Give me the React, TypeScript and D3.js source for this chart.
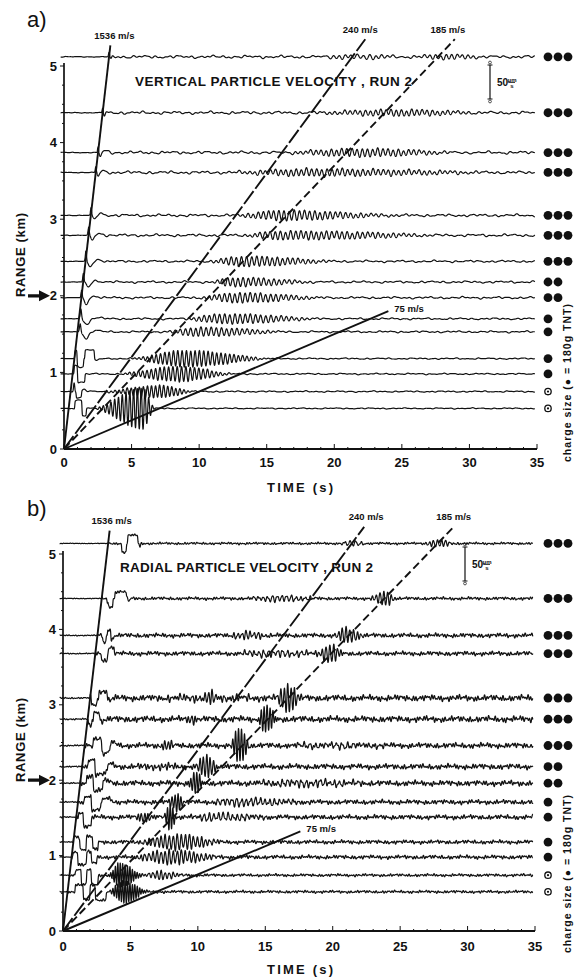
import React, { useMemo } from 'react';
import * as d3 from 'd3';

// ---------------- data ----------------
const X_TICKS = [0, 5, 10, 15, 20, 25, 30, 35];
const Y_TICKS = [0, 1, 2, 3, 4, 5];
const VELOCITIES = [1536, 240, 185, 75]; // m/s
const VELOCITY_LABELS = ['1536 m/s', '240 m/s', '185 m/s', '75 m/s'];
const VELOCITY_DASH = ['none', '16,3', '8,4', 'none'];
const CHARGES = [3, 3, 3, 3, 3, 3, 3, 2, 2, 1, 1, 1, 1, 0.5, 0.5]; // x 180 g TNT
const SCALE_BAR = 50; // μm/s

// panel a : vertical particle velocity
const RANGES_A = [5.12, 4.39, 3.87, 3.61, 3.05, 2.79, 2.45, 2.18, 1.975, 1.7, 1.53, 1.18, 0.98, 0.75, 0.53];
const LINE_TOP_A = [5.27, 5.35, 5.35, 1.8];
const NOISE_A = [2, 2, 2, 2, 1.8, 1.8, 1.5, 1.5, 1.5, 1.3, 1.3, 1, 1, 1, 0.8];
const NOISE_PERIODS_A = [0.83, 0.39, 2.6, 0.55];
const NOISE_WEIGHTS_A = [0.45, 0.3, 0.4, 0.25];
// [trace, t0, t1, amplitude μm/s]
const BOXES_A = [
  [11, 0.8, 0.97, 12], [11, 0.97, 1.45, -12], [11, 1.55, 2.25, 13],
  [12, 0.75, 1.0, 13], [12, 1.0, 1.55, -12],
  [13, 0.9, 1.3, -9],
  [14, 0.8, 1.33, 12], [14, 1.33, 1.65, -11],
];
// [trace, centre, width, amplitude]
const BUMPS_A = [
  [0, 3.33, 0.05, 6], [0, 3.48, 0.07, -4],
  [1, 2.86, 0.05, 7], [1, 3.0, 0.08, -5],
  [2, 2.52, 0.05, 8], [2, 2.68, 0.1, -6], [2, 3.1, 0.25, 2.5],
  [3, 2.35, 0.05, 8], [3, 2.52, 0.1, -6], [3, 2.9, 0.25, 2],
  [4, 2.0, 0.06, 10], [4, 2.25, 0.15, -6], [4, 2.8, 0.3, 2.5],
  [5, 1.82, 0.06, 10], [5, 2.1, 0.15, -7], [5, 2.7, 0.3, 2.5],
  [6, 1.62, 0.06, 14], [6, 1.95, 0.2, -8], [6, 2.6, 0.3, 2.5],
  [7, 1.43, 0.06, 12], [7, 1.8, 0.2, -7], [7, 2.4, 0.3, 2],
  [8, 1.3, 0.06, 10], [8, 1.65, 0.2, -9], [8, 2.3, 0.3, 2.5],
  [9, 1.25, 0.07, 14], [9, 1.7, 0.25, -8], [9, 2.5, 0.35, 2],
  [10, 1.2, 0.07, 12], [10, 1.65, 0.25, -10], [10, 2.4, 0.35, 2],
  [11, 2.45, 0.2, -3],
  [13, 0.75, 0.06, 13], [13, 1.5, 0.2, 3],
];
// [trace, tStart, tPeak, tEnd, amplitude, period]
const PACKETS_A = [
  [0, 18, 22, 26, 3, 0.45], [0, 25, 28.5, 33, 3.5, 0.4],
  [1, 15, 24, 33, 4, 0.38],
  [2, 14, 22, 32, 5, 0.38],
  [3, 11, 19.5, 33, 5.5, 0.38],
  [4, 12, 16.5, 27, 7, 0.38],
  [5, 12.5, 16, 30, 6.5, 0.38],
  [6, 10, 13.3, 21, 7.5, 0.38],
  [7, 10.5, 12.5, 20, 6, 0.38],
  [8, 9.5, 13, 21, 7, 0.38],
  [9, 8, 12, 20, 7, 0.38],
  [10, 7, 10, 18, 6, 0.38],
  [11, 4.5, 9, 16, 12, 0.32],
  [12, 3.5, 8.5, 13, 11, 0.32],
  [13, 2.5, 7, 10, 9, 0.3],
  [14, 2, 5.8, 6.8, 30, 0.28],
];

// panel b : radial particle velocity
const RANGES_B = [5.14, 4.41, 3.92, 3.68, 3.09, 2.81, 2.46, 2.18, 1.96, 1.71, 1.51, 1.18, 0.98, 0.74, 0.52];
const LINE_TOP_B = [5.31, 5.36, 5.36, 1.32];
const NOISE_B = [1.5, 2, 2.8, 2.8, 4, 4, 3.5, 3.5, 3.5, 3, 3, 2.5, 2.5, 1.8, 1.8];
const NOISE_PERIODS_B = [0.47, 0.17, 2.3, 0.23];
const NOISE_WEIGHTS_B = [0.3, 0.45, 0.3, 0.4];
const BOXES_B = [
  [0, 4.35, 4.7, -13], [0, 4.8, 5.55, 12],
  [1, 3.35, 3.7, -12], [1, 3.85, 4.7, 10],
  [2, 2.95, 3.2, -10], [2, 3.3, 3.55, 9], [2, 3.55, 3.75, -6],
  [3, 2.85, 3.3, -10], [3, 3.35, 3.8, 9],
  [4, 2.1, 2.55, -10], [4, 2.65, 3.3, 10],
  [5, 1.88, 2.15, -10], [5, 2.25, 2.75, 10],
  [6, 2.25, 2.87, 11], [6, 2.87, 3.48, -12],
  [7, 1.88, 2.37, 11], [7, 2.37, 3.3, -11],
  [8, 1.75, 2.25, 11], [8, 2.25, 2.95, -11],
  [9, 1.6, 2.1, 9], [9, 2.1, 2.8, -12],
  [10, 1.15, 1.5, 7], [10, 1.5, 2.1, -13],
  [11, 0.77, 1.25, 8], [11, 1.25, 1.72, -11], [11, 1.72, 2.2, 8], [11, 2.2, 2.6, -11],
  [12, 0.75, 1.1, 8], [12, 1.1, 1.75, -11], [12, 1.75, 2.1, 8], [12, 2.1, 2.5, -9],
  [13, 0.9, 1.35, 8], [13, 1.35, 1.75, -14], [13, 1.75, 2.1, 8], [13, 2.1, 2.6, -14],
  [14, 0.9, 1.5, 10], [14, 1.5, 2.0, -12], [14, 2.0, 2.4, 10], [14, 2.4, 3.2, -12],
];
const BUMPS_B = [
  [0, 5.7, 0.06, -5], [1, 3.3, 0.05, -6], [1, 4.9, 0.08, -4],
  [4, 3.5, 0.1, -5], [5, 2.9, 0.1, -5],
  [6, 3.7, 0.35, 4], [7, 3.5, 0.35, 4], [8, 3.2, 0.35, 4], [9, 3.3, 0.35, 6],
];
const PACKETS_B = [
  [0, 26.5, 27.8, 29.5, 5, 0.3], [0, 20, 21.5, 23, 3, 0.4],
  [1, 22.6, 23.8, 25, 10, 0.28], [1, 13, 16, 20, 4, 0.35],
  [2, 19.8, 21.1, 22.5, 11, 0.28], [2, 12, 13.5, 16, 5, 0.3],
  [3, 18.6, 19.8, 21, 13, 0.28], [3, 12, 15, 22, 4, 0.35],
  [4, 15.6, 16.7, 17.8, 22, 0.25], [4, 10, 11, 12, 6, 0.25], [4, 5, 10, 20, 3, 0.3],
  [5, 14.2, 15.1, 16, 22, 0.22], [5, 9, 9.6, 10.5, 6, 0.25],
  [6, 12.3, 13.1, 14, 25, 0.22], [6, 7, 7.8, 8.8, 6, 0.25], [6, 15, 20, 26, 3, 0.4],
  [7, 9.6, 10.7, 11.8, 16, 0.25], [7, 5, 7, 9, 4, 0.25],
  [8, 9.2, 9.8, 10.6, 18, 0.22], [8, 12, 18, 25, 4, 0.35],
  [9, 7.6, 8.4, 9.2, 12, 0.22], [9, 10, 13, 20, 5, 0.35],
  [10, 7.3, 7.9, 8.5, 18, 0.2], [10, 5, 6, 7, 5, 0.25], [10, 9, 11, 17, 5, 0.35],
  [11, 4.8, 8.5, 12.5, 11, 0.3],
  [12, 4.5, 8, 12.5, 10, 0.3],
  [13, 3.3, 4.2, 6.3, 17, 0.18], [13, 6, 7, 9.5, 6, 0.3],
  [14, 3.3, 4.5, 6.4, 17, 0.18],
];

// ---------------- rendering ----------------
const FONT = "'Liberation Sans', Arial, Helvetica, sans-serif";
const INK = '#111';

type Layout = {
  xL: number; xR: number; y0: number; y5: number;
  label: string; labelY: number;
  title: string; titleX: number; titleY: number; titleLen: number;
  barX: number; barY: number;
  chargeY: number; timeY: number; tickY: number; rangeY: number;
  labelDx: number[];
};

const sig = (x: number) => 1 / (1 + Math.exp(-x));

function sampleTrace(
  i: number, r: number, boxes: number[][], bumps: number[][], packets: number[][],
  noise: number[], np: number[], nw: number[]
): [number, number][] {
  const bx = boxes.filter(b => b[0] === i);
  const bu = bumps.filter(b => b[0] === i);
  const pk = packets.filter(b => b[0] === i);
  const tArr = (r * 1000) / VELOCITIES[0];
  const pts: [number, number][] = [];
  const phases = [i * 1.3, i * 2.1, i * 0.7, i * 3.7];
  for (let t = -0.25; t <= 34.85; t += 0.01) {
    let v = 0;
    for (const [, t0, t1, a] of bx) v += a * (sig((t - t0) / 0.012) - sig((t - t1) / 0.012));
    for (const [, c, w, a] of bu) v += a * Math.exp(-(((t - c) / w) ** 2));
    for (const [, t0, tp, t1, a, p] of pk) {
      if (t > t0 && t < t1) {
        const env = t < tp
          ? Math.sin((Math.PI / 2) * (t - t0) / (tp - t0)) ** 2
          : Math.cos((Math.PI / 2) * (t - tp) / (t1 - tp)) ** 2;
        v += a * env * Math.sin((2 * Math.PI * (t - t0)) / p);
      }
    }
    const nf = t < tArr ? 0.25 : 1;
    let n = 0;
    for (let k = 0; k < np.length; k++) n += nw[k] * Math.sin((2 * Math.PI * t) / np[k] + phases[k]);
    v += nf * noise[i] * n;
    pts.push([t, v]);
  }
  return pts;
}

function Panel({ L, ranges, lineTop, noise, np, nw, boxes, bumps, packets }: {
  L: Layout; ranges: number[]; lineTop: number[]; noise: number[]; np: number[]; nw: number[];
  boxes: number[][]; bumps: number[][]; packets: number[][];
}) {
  const x = d3.scaleLinear().domain([0, 35]).range([L.xL, L.xR]);
  const y = d3.scaleLinear().domain([0, 5]).range([L.y0, L.y5]);
  const amp = d3.scaleLinear().domain([0, SCALE_BAR]).range([0, 34]);

  const paths = useMemo(() => ranges.map((r, i) => {
    const pts = sampleTrace(i, r, boxes, bumps, packets, noise, np, nw);
    const line = d3.line<[number, number]>().x(d => x(d[0])).y(d => y(r) - amp(d[1]));
    return line(pts) || '';
  }), []);

  const minorY = d3.range(0, 5.01, 0.25);
  const minorX = d3.range(0, 35.01, 1);
  const barY2 = L.barY + amp(SCALE_BAR);
  const barMid = (L.barY + barY2) / 2;

  return (
    <g fontFamily={FONT} fill={INK}>
      <text x={27} y={L.labelY} fontSize={22} fontWeight={400}>{L.label}</text>

      {/* traces */}
      {paths.map((d, i) => (
        <path key={i} d={d} fill="none" stroke={INK} strokeWidth={1.2} strokeLinejoin="round" />
      ))}

      {/* velocity lines */}
      {VELOCITIES.map((v, k) => {
        const rTop = lineTop[k];
        const tTop = (rTop * 1000) / v;
        const xe = x(tTop), ye = y(rTop);
        const lab = k < 3
          ? <text x={xe + L.labelDx[k]} y={ye - 6.5} fontSize={9.5} fontWeight={700} textAnchor="middle">{VELOCITY_LABELS[k]}</text>
          : <text x={xe + 6} y={ye + 1} fontSize={9.5} fontWeight={700}>{VELOCITY_LABELS[k]}</text>;
        return (
          <g key={v}>
            <line x1={x(0)} y1={y(0)} x2={xe} y2={ye} stroke={INK} strokeWidth={1.9}
              strokeDasharray={VELOCITY_DASH[k]} />
            {lab}
          </g>
        );
      })}

      {/* axes */}
      <line x1={x(0)} x2={x(0)} y1={y(0)} y2={y(5) - 3} stroke={INK} strokeWidth={1.7} />
      <line x1={x(0)} x2={x(35)} y1={y(0)} y2={y(0)} stroke={INK} strokeWidth={2} />
      {minorY.map(v => (
        <line key={'my' + v} x1={x(0) - (Number.isInteger(v) ? 4 : 2)} x2={x(0)} y1={y(v)} y2={y(v)} stroke={INK} strokeWidth={1} />
      ))}
      {minorX.map(v => (
        <line key={'mx' + v} x1={x(v)} x2={x(v)} y1={y(0)} y2={y(0) - (v % 5 === 0 ? 5 : 2)} stroke={INK} strokeWidth={1} />
      ))}
      {Y_TICKS.map(v => (
        <text key={'yt' + v} x={x(0) - 7} y={y(v) + 4.5} fontSize={13} fontWeight={700} textAnchor="end">{v}</text>
      ))}
      {X_TICKS.map(v => (
        <text key={'xt' + v} x={x(v)} y={L.tickY} fontSize={13} fontWeight={700} textAnchor="middle">{v}</text>
      ))}
      <text x={300} y={L.timeY} fontSize={13} fontWeight={700} textAnchor="middle" textLength={66} lengthAdjust="spacing">TIME (s)</text>
      <text transform={`translate(25,${L.rangeY}) rotate(-90)`} fontSize={13} fontWeight={700} textAnchor="middle" textLength={84} lengthAdjust="spacing">RANGE (km)</text>
      {/* arrow pointing at 2 km */}
      <path d={`M28,${y(2) - 1.6} L39,${y(2) - 1.6} L39,${y(2) - 5.5} L50,${y(2)} L39,${y(2) + 5.5} L39,${y(2) + 1.6} L28,${y(2) + 1.6} Z`} fill={INK} />

      {/* title */}
      <text x={L.titleX} y={L.titleY} fontSize={13.5} fontWeight={700} textLength={L.titleLen} lengthAdjust="spacing">{L.title}</text>

      {/* scale bar */}
      <line x1={L.barX} x2={L.barX} y1={L.barY} y2={barY2} stroke={INK} strokeWidth={1.2} />
      <line x1={L.barX - 2.5} x2={L.barX + 2.5} y1={L.barY} y2={L.barY} stroke={INK} strokeWidth={1} />
      <line x1={L.barX - 2.5} x2={L.barX + 2.5} y1={barY2} y2={barY2} stroke={INK} strokeWidth={1} />
      <circle cx={L.barX} cy={L.barY - 2.5} r={1.4} fill="none" stroke={INK} strokeWidth={0.7} />
      <circle cx={L.barX} cy={barY2 + 2.5} r={1.4} fill="none" stroke={INK} strokeWidth={0.7} />
      <text x={L.barX + 7} y={barMid + 4} fontSize={10} fontWeight={700}>50</text>
      <text x={L.barX + 22} y={barMid - 0.5} fontSize={6} fontWeight={700} textAnchor="middle">μm</text>
      <line x1={L.barX + 19} x2={L.barX + 25} y1={barMid + 0.5} y2={barMid + 0.5} stroke={INK} strokeWidth={0.8} />
      <text x={L.barX + 22} y={barMid + 6} fontSize={6} fontWeight={700} textAnchor="middle">s</text>

      {/* charge sizes */}
      {ranges.map((r, i) => {
        const c = CHARGES[i];
        if (c < 1) {
          return (
            <g key={'c' + i}>
              <circle cx={548} cy={y(r)} r={3.2} fill="none" stroke={INK} strokeWidth={1.3} />
              <circle cx={548} cy={y(r)} r={1.1} fill={INK} />
            </g>
          );
        }
        return (
          <g key={'c' + i}>
            {d3.range(c).map(k => <circle key={k} cx={548 + k * 10} cy={y(r)} r={4.4} fill={INK} />)}
          </g>
        );
      })}
      <text transform={`translate(571,${L.chargeY}) rotate(-90)`} fontSize={10.5} fontWeight={700} textAnchor="middle" textLength={158} lengthAdjust="spacing">charge size (● = 180g TNT)</text>
    </g>
  );
}

const LAYOUT_A: Layout = {
  xL: 64, xR: 537, y0: 449, y5: 66, label: 'a)', labelY: 27,
  title: 'VERTICAL PARTICLE VELOCITY , RUN 2', titleX: 135, titleY: 86, titleLen: 277,
  barX: 490, barY: 65, chargeY: 383, timeY: 492, tickY: 467, rangeY: 255,
  labelDx: [4, -5, -7],
};
const LAYOUT_B: Layout = {
  xL: 63, xR: 535, y0: 931, y5: 554, label: 'b)', labelY: 516,
  title: 'RADIAL PARTICLE VELOCITY , RUN 2', titleX: 120, titleY: 572, titleLen: 253,
  barX: 465, barY: 547, chargeY: 874, timeY: 974, tickY: 951, rangeY: 740,
  labelDx: [2, 2, 0],
};

export default function App() {
  return (
    <svg width={585} height={977} viewBox="0 0 585 977"
      style={{ position: 'absolute', left: 0, top: 0, background: '#fff' }}>
      <rect width={585} height={977} fill="#fff" />
      <Panel L={LAYOUT_A} ranges={RANGES_A} lineTop={LINE_TOP_A} noise={NOISE_A} np={NOISE_PERIODS_A} nw={NOISE_WEIGHTS_A}
        boxes={BOXES_A} bumps={BUMPS_A} packets={PACKETS_A} />
      <Panel L={LAYOUT_B} ranges={RANGES_B} lineTop={LINE_TOP_B} noise={NOISE_B} np={NOISE_PERIODS_B} nw={NOISE_WEIGHTS_B}
        boxes={BOXES_B} bumps={BUMPS_B} packets={PACKETS_B} />
    </svg>
  );
}
